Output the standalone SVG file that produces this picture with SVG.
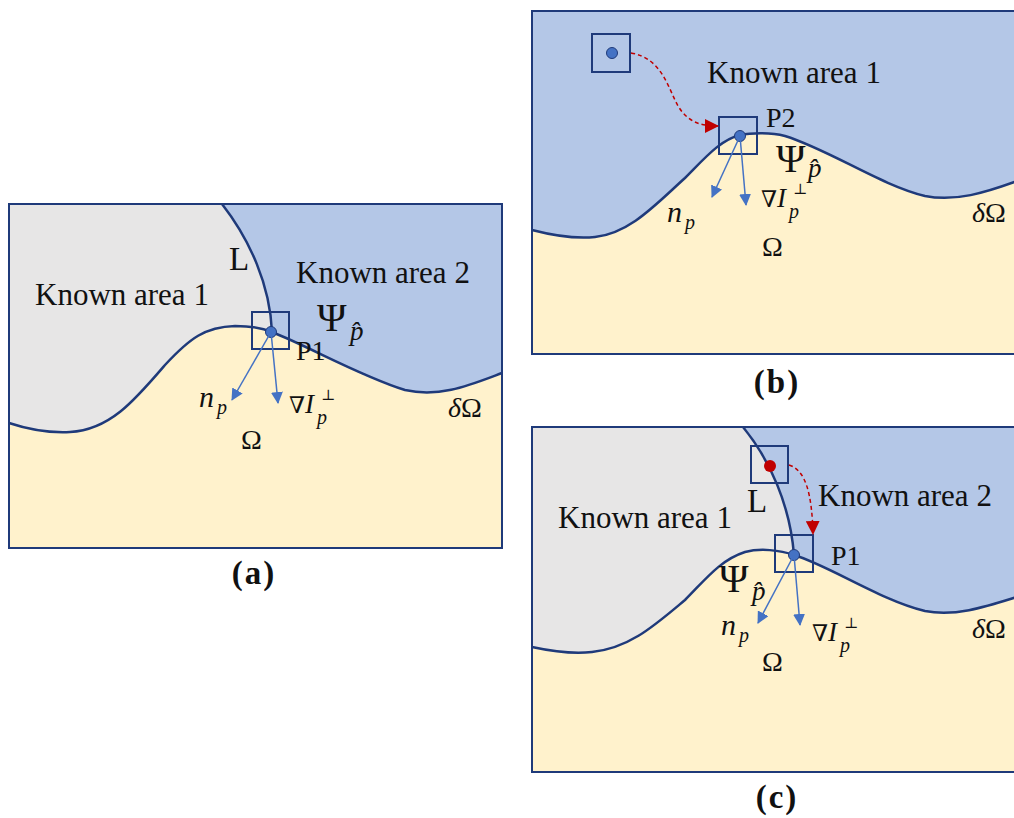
<svg xmlns="http://www.w3.org/2000/svg" width="1014" height="818" viewBox="0 0 1014 818">
<style>
.frame{fill:none;stroke:#1f3a7a;stroke-width:2}
.bnd{fill:none;stroke:#1f3a7a;stroke-width:2.5}
.sq{fill:none;stroke:#1f3a7a;stroke-width:2}
.gray{fill:#e7e6e6}
.blue{fill:#b4c7e7}
.beige{fill:#fff2cc}
.pt{fill:#4472c4;stroke:#1f3a7a;stroke-width:1}
.rpt{fill:#c00000}
.vec{stroke:#4472c4;stroke-width:1.5;fill:none}
.dash{stroke:#c00000;stroke-width:1.5;fill:none;stroke-dasharray:4 3}
text{font-family:"Liberation Serif","DejaVu Serif",serif;fill:#111}
.lbl{font-size:31px}
.pl{font-size:28px}
.psi{font-size:40px}
.om{font-size:28px}
.it{font-style:italic}
.cap{font-size:33px;font-weight:bold;text-anchor:middle;letter-spacing:2px}
</style>
<defs>
<marker id="ab" markerWidth="12" markerHeight="12" refX="11" refY="6" orient="auto" markerUnits="userSpaceOnUse">
<path d="M0,0 L12,6 L0,12 Z" fill="#4472c4"/>
</marker>
<marker id="ar" markerWidth="14" markerHeight="14" refX="13" refY="7" orient="auto" markerUnits="userSpaceOnUse">
<path d="M0,0 L14,7 L0,14 Z" fill="#c00000"/>
</marker>
</defs>

<!-- Panel (a) -->
<g id="panel-a">
<rect class="beige" x="9" y="204" width="493" height="344"/>
<path class="gray" d="M9,204 L222,204 C250,240 270,285 272,332 C265,329 255,326 235,326 C205,327 190,338 165,365 C135,400 110,430 70,432 C50,433 30,430 9,423 Z"/>
<path class="blue" d="M222,204 C250,240 270,285 272,332 C310,347 360,376 405,390 C440,398 470,385 502,373 L502,204 Z"/>
<path class="bnd" d="M9,423 C30,430 50,433 70,432 C110,430 135,400 165,365 C190,338 205,327 235,326 C255,326 265,329 272,332 C310,347 360,376 405,390 C440,398 470,385 502,373"/>
<path class="bnd" d="M222,204 C250,240 270,285 272,332"/>
<rect class="frame" x="9" y="204" width="493" height="344"/>
</g>
<g id="node-a-p1">
<rect class="sq" x="252" y="312" width="37" height="37"/>
<circle class="pt" cx="271" cy="332" r="5.5"/>
</g>

<!-- Panel (b) -->
<g id="panel-b">
<rect class="beige" x="532" y="11" width="490" height="343"/>
<path class="blue" d="M532,11 L532,230 C555,236 575,239 595,237 C630,233 655,205 685,178 C705,158 720,140 740,135 C750,133 770,132 785,136 C830,150 880,185 925,196 C955,202 985,193 1020,180 L1020,11 Z"/>
<path class="bnd" d="M532,230 C555,236 575,239 595,237 C630,233 655,205 685,178 C705,158 720,140 740,135 C750,133 770,132 785,136 C830,150 880,185 925,196 C955,202 985,193 1020,180"/>
<rect class="frame" x="532" y="11" width="490" height="343"/>
</g>
<g id="node-b-src">
<rect class="sq" x="592" y="34" width="38" height="38"/>
<circle class="pt" cx="612" cy="53" r="5.5"/>
</g>
<g id="node-b-p2">
<rect class="sq" x="719" y="117" width="38" height="37"/>
<circle class="pt" cx="740" cy="136" r="5.5"/>
</g>

<!-- Panel (c) -->
<g id="panel-c">
<rect class="beige" x="532" y="427" width="490" height="345"/>
<path class="gray" d="M532,427 L743,427 C770,460 790,505 794,555 C780,550 760,548 745,552 C720,560 705,580 685,600 C655,625 630,648 592,652 C575,654 555,652 532,647 Z"/>
<path class="blue" d="M743,427 C770,460 790,505 794,555 C830,566 880,600 925,611 C955,617 985,607 1020,596 L1020,427 Z"/>
<path class="bnd" d="M532,647 C555,652 575,654 592,652 C630,648 655,625 685,600 C705,580 720,560 745,552 C760,548 780,550 794,555 C830,566 880,600 925,611 C955,617 985,607 1020,596"/>
<path class="bnd" d="M743,427 C770,460 790,505 794,555"/>
<rect class="frame" x="532" y="427" width="490" height="345"/>
</g>
<g id="node-c-src">
<rect class="sq" x="751" y="446" width="37" height="37"/>
<circle class="rpt" cx="770" cy="466" r="6"/>
</g>
<g id="node-c-p1">
<rect class="sq" x="775" y="535" width="38" height="37"/>
<circle class="pt" cx="794" cy="555" r="5.5"/>
</g>

<!-- Connectors -->
<g id="connectors">
<path class="vec" d="M271,332 L232,400" marker-end="url(#ab)"/>
<path class="vec" d="M271,332 L278,403" marker-end="url(#ab)"/>
<path class="vec" d="M740,136 L712,197" marker-end="url(#ab)"/>
<path class="vec" d="M740,136 L746,205" marker-end="url(#ab)"/>
<path class="vec" d="M794,555 L758,623" marker-end="url(#ab)"/>
<path class="vec" d="M794,555 L800,625" marker-end="url(#ab)"/>
<path class="dash" d="M631,53 C662,58 668,88 678,106 C688,122 700,126 718,126" marker-end="url(#ar)"/>
<path class="dash" d="M789,465 C806,470 812,495 813,534" marker-end="url(#ar)"/>
</g>

<!-- Labels (a) -->
<g id="labels-a">
<text class="lbl" x="35" y="305">Known area 1</text>
<text class="lbl" x="296" y="283">Known area 2</text>
<text x="229" y="270" font-size="33">L</text>
<text class="psi" x="317" y="331">Ψ</text>
<text class="it" x="350" y="340" font-size="27">p̂</text>
<text class="pl" x="296" y="360">P1</text>
<text x="199" y="407" font-size="30" class="it">n</text>
<text x="217" y="414" font-size="20" class="it">p</text>
<text x="289" y="413" font-size="23">∇</text>
<text x="305" y="413" font-size="27" class="it">I</text>
<text x="321" y="400" font-size="15">⊥</text>
<text x="317" y="424" font-size="20" class="it">p</text>
<text class="om" x="241" y="449">Ω</text>
<text x="448" y="417" font-size="28"><tspan class="it">δ</tspan>Ω</text>
<text class="cap" x="254" y="584">(a)</text>
</g>

<!-- Labels (b) -->
<g id="labels-b">
<text class="lbl" x="707" y="83">Known area 1</text>
<text class="pl" x="766" y="127">P2</text>
<text class="psi" x="776" y="172">Ψ</text>
<text class="it" x="808" y="177" font-size="27">p̂</text>
<text x="667" y="222" font-size="30" class="it">n</text>
<text x="685" y="229" font-size="20" class="it">p</text>
<text x="761" y="207" font-size="23">∇</text>
<text x="777" y="207" font-size="27" class="it">I</text>
<text x="793" y="194" font-size="15">⊥</text>
<text x="789" y="218" font-size="20" class="it">p</text>
<text class="om" x="762" y="256">Ω</text>
<text x="972" y="222" font-size="28"><tspan class="it">δ</tspan>Ω</text>
<text class="cap" x="777" y="393">(b)</text>
</g>

<!-- Labels (c) -->
<g id="labels-c">
<text class="lbl" x="558" y="528">Known area 1</text>
<text class="lbl" x="818" y="506">Known area 2</text>
<text x="747" y="512" font-size="33">L</text>
<text class="psi" x="719" y="592">Ψ</text>
<text class="it" x="752" y="600" font-size="27">p̂</text>
<text class="pl" x="831" y="565">P1</text>
<text x="721" y="635" font-size="30" class="it">n</text>
<text x="739" y="642" font-size="20" class="it">p</text>
<text x="812" y="641" font-size="23">∇</text>
<text x="828" y="641" font-size="27" class="it">I</text>
<text x="844" y="628" font-size="15">⊥</text>
<text x="840" y="652" font-size="20" class="it">p</text>
<text class="om" x="762" y="671">Ω</text>
<text x="972" y="638" font-size="28"><tspan class="it">δ</tspan>Ω</text>
<text class="cap" x="777" y="808">(c)</text>
</g>
</svg>
